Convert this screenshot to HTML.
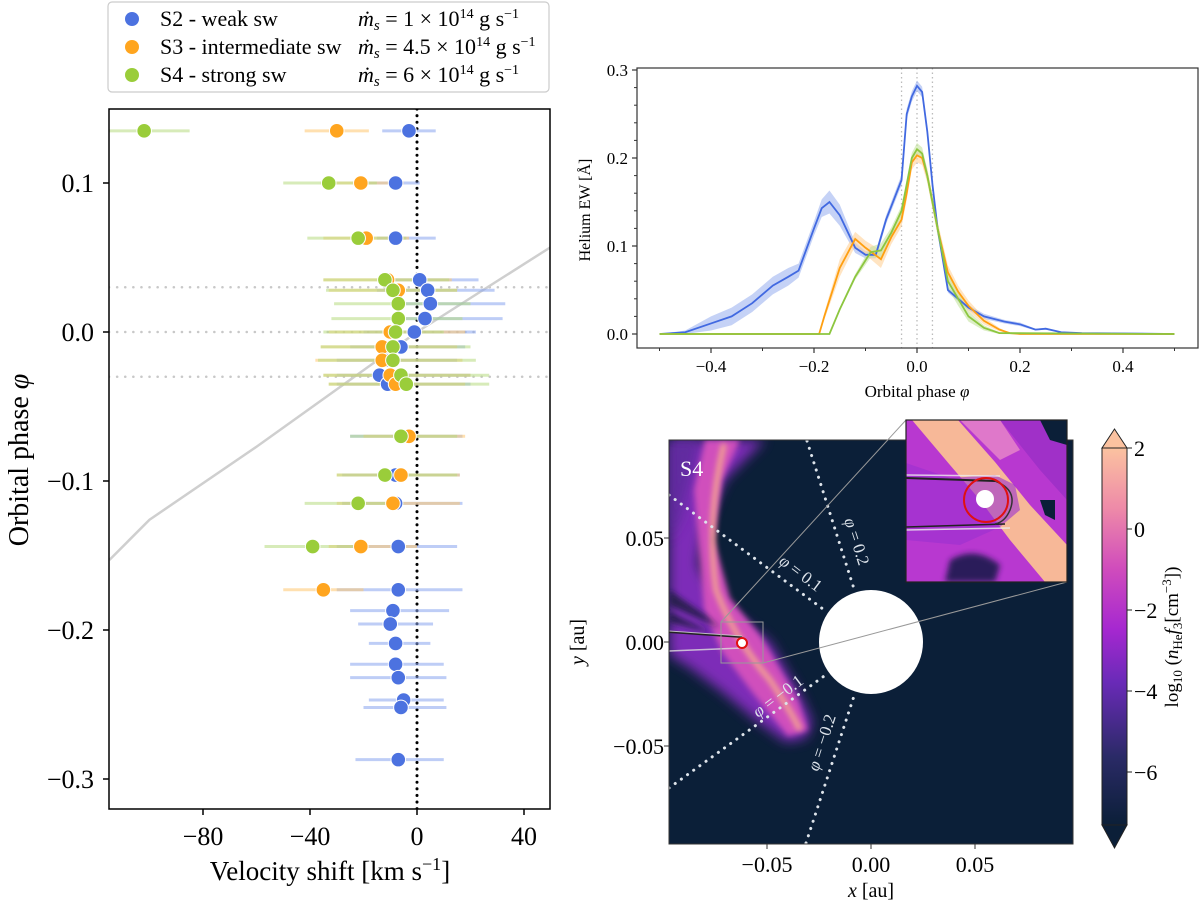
<!DOCTYPE html>
<html><head><meta charset="utf-8"><title>Helium velocity shift and EW</title>
<style>
html,body{margin:0;padding:0;background:#fff;}
svg{display:block;font-family:"Liberation Serif","DejaVu Serif",serif;}
</style></head>
<body>
<svg id="fig" width="1200" height="902" viewBox="0 0 1200 902" xmlns="http://www.w3.org/2000/svg">
<defs>
  <filter id="blur3" x="-20%" y="-20%" width="140%" height="140%"><feGaussianBlur stdDeviation="3"/></filter>
  <filter id="blur6" x="-20%" y="-20%" width="140%" height="140%"><feGaussianBlur stdDeviation="6"/></filter>
  <linearGradient id="cmap" x1="0" y1="1" x2="0" y2="0">
    <stop offset="0" stop-color="#0b1f38"/>
    <stop offset="0.18" stop-color="#2a2a66"/>
    <stop offset="0.38" stop-color="#6a2ab8"/>
    <stop offset="0.52" stop-color="#a628d0"/>
    <stop offset="0.68" stop-color="#d04cbc"/>
    <stop offset="0.84" stop-color="#ee8aa8"/>
    <stop offset="1" stop-color="#fbc2a0"/>
  </linearGradient>
  <clipPath id="mapclip"><rect x="669" y="440" width="404" height="404"/></clipPath>
  <clipPath id="insetclip"><rect x="906" y="420" width="161" height="162"/></clipPath>
  <clipPath id="leftclip"><rect x="109" y="109" width="441" height="700"/></clipPath>
  <clipPath id="trclip"><rect x="637" y="68" width="561" height="280"/></clipPath>
</defs>

<!-- LEFT PANEL -->
<g id="left">
  <g id="leftGrid" clip-path="url(#leftclip)"></g>
  <g id="leftMarks" clip-path="url(#leftclip)"></g>
  <rect x="109" y="109" width="441" height="700" fill="none" stroke="#000" stroke-width="1.5"/>
  <g id="leftTicks"></g>
  <text x="28" y="460" font-size="28" text-anchor="middle" transform="rotate(-90 28 460)">Orbital phase <tspan font-style="italic">φ</tspan></text>
  <text x="330" y="880" font-size="27" text-anchor="middle">Velocity shift [km s<tspan baseline-shift="super" font-size="18">−1</tspan>]</text>
</g>

<!-- LEGEND -->
<g id="legend">
  <rect x="108" y="2" width="441" height="90" rx="4" fill="#fff" stroke="#ccc" stroke-width="1.2"/>
  <g>
    <circle cx="132" cy="19" r="7" fill="#4c72e0"/>
    <text x="160" y="26" font-size="22">S2 - weak sw</text>
    <text x="358" y="26" font-size="22"><tspan font-style="italic">ṁ</tspan><tspan font-style="italic" font-size="15" dy="4">s</tspan><tspan dy="-4"> = 1 × 10</tspan><tspan font-size="14" dy="-8">14</tspan><tspan dy="8"> g s</tspan><tspan font-size="14" dy="-8">−1</tspan></text>
  </g>
  <g>
    <circle cx="132" cy="47" r="7" fill="#ffa51f"/>
    <text x="160" y="54" font-size="22">S3 - intermediate sw</text>
    <text x="358" y="54" font-size="22"><tspan font-style="italic">ṁ</tspan><tspan font-style="italic" font-size="15" dy="4">s</tspan><tspan dy="-4"> = 4.5 × 10</tspan><tspan font-size="14" dy="-8">14</tspan><tspan dy="8"> g s</tspan><tspan font-size="14" dy="-8">−1</tspan></text>
  </g>
  <g>
    <circle cx="132" cy="75" r="7" fill="#9acd3a"/>
    <text x="160" y="82" font-size="22">S4 - strong sw</text>
    <text x="358" y="82" font-size="22"><tspan font-style="italic">ṁ</tspan><tspan font-style="italic" font-size="15" dy="4">s</tspan><tspan dy="-4"> = 6 × 10</tspan><tspan font-size="14" dy="-8">14</tspan><tspan dy="8"> g s</tspan><tspan font-size="14" dy="-8">−1</tspan></text>
  </g>
</g>

<!-- TOP RIGHT PANEL -->
<g id="tr">
  <g id="trMarks" clip-path="url(#trclip)"></g>
  <rect x="637" y="68" width="561" height="280" fill="none" stroke="#333" stroke-width="1.2"/>
  <g id="trTicks"></g>
  <text x="590" y="210" font-size="16" text-anchor="middle" transform="rotate(-90 590 210)">Helium EW [Å]</text>
  <text x="917" y="397" font-size="17" text-anchor="middle">Orbital phase <tspan font-style="italic">φ</tspan></text>
</g>

<!-- MAP PANEL -->
<g id="map">
  <g clip-path="url(#mapclip)">
    <rect x="669" y="440" width="404" height="404" fill="#0b1f38"/>
    <g>
      <path d="M669,440 L765,440 L725,480 L705,525 L698,565 L722,605 L770,642 L800,695 L812,722 L806,738 L786,742 L758,722 L722,692 L690,668 L669,655 Z" fill="#8a2ec6" opacity="0.9" filter="url(#blur6)"/>
      <path d="M669,440 L700,440 L690,480 L680,520 L669,540 Z" fill="#5a2a9a" opacity="0.8" filter="url(#blur6)"/>
      <path d="M705,440 L740,440 L722,480 L714,540 L730,598 L762,638 L798,700 L808,730 L788,736 L752,692 L722,652 L704,610 L698,540 L694,490 Z" fill="#d050bc" filter="url(#blur3)"/>
      <path d="M724,444 Q706,520 716,590 Q735,640 770,680 Q790,710 800,730" fill="none" stroke="#f5a88e" stroke-width="5" filter="url(#blur3)"/>
      <path d="M669,590 L705,615 L720,628 L669,605 Z M669,612 L712,633 L669,622 Z" fill="#1a1a40" opacity="0.85" filter="url(#blur3)"/>
    </g>
    <circle cx="871" cy="642" r="52" fill="#fff"/>
    <g fill="none" stroke="#dde3ea" stroke-width="3" stroke-dasharray="0.1 7.5" stroke-linecap="round">
      <line x1="807" y1="441" x2="855" y2="592"/>
      <line x1="669" y1="495" x2="827" y2="612"/>
      <line x1="669" y1="788" x2="827" y2="674"/>
      <line x1="806" y1="843" x2="855" y2="693"/>
    </g>
    <g fill="#dde3ea" font-size="17">
      <text transform="translate(844,520) rotate(72)"><tspan font-style="italic">φ</tspan> = 0.2</text>
      <text transform="translate(778,563) rotate(37)"><tspan font-style="italic">φ</tspan> = 0.1</text>
      <text transform="translate(758,718) rotate(-37)"><tspan font-style="italic">φ</tspan> = −0.1</text>
      <text transform="translate(818,772) rotate(-72)"><tspan font-style="italic">φ</tspan> = −0.2</text>
    </g>
    <g>
      <line x1="669" y1="632" x2="742" y2="637" stroke="#222" stroke-width="2"/>
      <line x1="669" y1="631" x2="742" y2="636" stroke="#ddd" stroke-width="1" opacity="0.8"/>
      <line x1="669" y1="651" x2="742" y2="648" stroke="#ddd" stroke-width="1.5" opacity="0.8"/>
      <circle cx="742" cy="643" r="5" fill="#fff" stroke="#e01010" stroke-width="2"/>
    </g>
    <rect x="721" y="622" width="42" height="41" fill="none" stroke="#999" stroke-width="1"/>
    <text x="680" y="476" font-size="22" fill="#fff">S4</text>
  </g>
  <rect x="669" y="440" width="404" height="404" fill="none" stroke="#333" stroke-width="1"/>
  <line x1="721" y1="622" x2="906" y2="420" stroke="#999" stroke-width="1"/>
  <line x1="763" y1="663" x2="1067" y2="582" stroke="#999" stroke-width="1"/>
  <g clip-path="url(#insetclip)">
    <rect x="906" y="420" width="161" height="162" fill="#b838d0"/>
    <path d="M1000,420 L1067,420 L1067,500 L1040,470 Z" fill="#a030c8" />
    <path d="M1040,420 L1067,420 L1067,445 L1050,440 Z" fill="#0b1f38"/>
    <path d="M1040,500 L1055,500 L1055,520 L1045,515 Z" fill="#0b1f38"/>
    <path d="M950,560 Q975,545 1000,565 L995,582 L945,582 Z" fill="#2a1f5a" filter="url(#blur3)"/>
    <path d="M912,420 L958,420 L995,462 L1030,505 L1067,545 L1067,582 L1045,582 L1010,540 L980,500 L950,465 Z" fill="#f7b898"/>
    <path d="M960,420 L1000,420 L1020,450 L1000,460 Z" fill="#e888c8" opacity="0.8"/>
    <path d="M906,463 L906,540 L960,545 L1000,527 L1020,510 L1015,485 L995,475 L950,478 Z" fill="#9a30d0" opacity="0.6"/>
    <line x1="906" y1="478" x2="995" y2="481" stroke="#222" stroke-width="2"/>
    <line x1="906" y1="475" x2="1000" y2="476" stroke="#eee" stroke-width="1.5" opacity="0.8"/>
    <line x1="906" y1="527" x2="1005" y2="524" stroke="#222" stroke-width="1.5"/>
    <line x1="906" y1="530" x2="1010" y2="528" stroke="#eee" stroke-width="1.5" opacity="0.8"/>
    <path d="M995,481 Q1018,490 1010,510 Q1005,522 995,524" fill="none" stroke="#333" stroke-width="1.5"/>
    <circle cx="986" cy="500" r="22" fill="none" stroke="#e01010" stroke-width="2"/>
    <circle cx="985" cy="499" r="9" fill="#fff"/>
  </g>
  <rect x="906" y="420" width="161" height="162" fill="none" stroke="#222" stroke-width="1.2"/>
  <g id="mapTicks"></g>
  <text x="871" y="897" font-size="20" text-anchor="middle"><tspan font-style="italic">x</tspan> [au]</text>
  <text x="584" y="642" font-size="20" text-anchor="middle" transform="rotate(-90 584 642)"><tspan font-style="italic">y</tspan> [au]</text>
  <!-- colorbar -->
  <g>
    <path d="M1102,448 L1114.5,429 L1127,448 Z" fill="#fbc2a0" stroke="#222" stroke-width="1"/>
    <path d="M1102,825 L1114.5,848 L1127,825 Z" fill="#0b1f38" stroke="#222" stroke-width="1"/>
    <rect x="1102" y="448" width="25" height="377" fill="url(#cmap)" stroke="#222" stroke-width="1"/>
    <g id="cbTicks"></g>
    <text x="1178" y="637" font-size="19" text-anchor="middle" transform="rotate(-90 1178 637)">log<tspan font-size="13" dy="4">10</tspan><tspan dy="-4"> (</tspan><tspan font-style="italic">n</tspan><tspan font-size="13" dy="4">He</tspan><tspan dy="-4" font-style="italic">f</tspan><tspan font-size="13" dy="4">3</tspan><tspan dy="-4">[cm</tspan><tspan font-size="13" dy="-7">−3</tspan><tspan dy="7">])</tspan></text>
  </g>
</g>

<script>
var NS = "http://www.w3.org/2000/svg";
function mk(tag, attrs, parent){ var e=document.createElementNS(NS,tag); for(var k in attrs) e.setAttribute(k,attrs[k]); if(parent) parent.appendChild(e); return e; }

// ---------- LEFT PANEL DATA ----------
var s2Phase = [0.135,0.1,0.063,0.035,0.028,0.019,0.009,0.0,-0.01,-0.019,-0.029,-0.035,-0.07,-0.096,-0.115,-0.144,-0.173,-0.187,-0.196,-0.209,-0.223,-0.232,-0.247,-0.252,-0.287];
var s2Vel   = [-3,-8,-8,1,4,5,3,-1,-6,-12,-14,-11,-6,-8,-8,-7,-7,-9,-10,-8,-8,-7,-5,-6,-7];
var s2Lo    = [-13,-20,-15,-12,-15,-10,-10,-20,-25,-30,-30,-30,-25,-28,-28,-30,-30,-25,-22,-18,-25,-25,-18,-20,-23];
var s2Hi    = [7,1,7,23,29,33,32,22,18,15,20,20,17,16,17,15,17,12,6,5,10,11,10,11,10];

var s3Phase = [0.135,0.1,0.063,0.035,0.028,0.0,-0.01,-0.019,-0.029,-0.035,-0.07,-0.096,-0.115,-0.144,-0.173];
var s3Vel   = [-30,-21,-19,-11,-7,-10,-13,-13,-10,-8,-3,-6,-9,-21,-35];
var s3Lo    = [-42,-36,-35,-35,-33,-33,-36,-38,-35,-33,-20,-30,-30,-33,-50];
var s3Hi    = [-18,-5,-3,13,15,18,15,17,20,18,18,16,16,0,-20];

var s4Phase = [0.135,0.1,0.063,0.035,0.028,0.019,0.009,0.0,-0.01,-0.019,-0.029,-0.035,-0.07,-0.096,-0.115,-0.144];
var s4Vel   = [-102,-33,-22,-12,-9,-7,-7,-8,-9,-9,-6,-4,-6,-12,-22,-39];
var s4Lo    = [-115,-50,-41,-35,-34,-31,-32,-35,-36,-37,-35,-33,-25,-30,-42,-57];
var s4Hi    = [-85,-15,-4,12,15,20,17,10,20,22,27,27,15,15,-5,-20];

var modelVel   = [-115,-100,-60,0,50];
var modelPhase = [-0.153,-0.126,-0.077,0.0,0.057];

var leftXTicks = [-80,-40,0,40];
var leftYTicks = [0.1,0.0,-0.1,-0.2,-0.3];
var leftYTickLabels = ["0.1","0.0","\u22120.1","\u22120.2","\u22120.3"];
var leftXTickLabels = ["\u221280","\u221240","0","40"];
var refPhases = [0.03,0.0,-0.03];

// ---------- TOP RIGHT DATA ----------
var ewPhase2 = [-0.5,-0.45,-0.4,-0.36,-0.32,-0.28,-0.25,-0.23,-0.2,-0.185,-0.17,-0.15,-0.12,-0.1,-0.08,-0.06,-0.03,-0.02,-0.01,0.0,0.01,0.02,0.03,0.04,0.06,0.08,0.1,0.13,0.17,0.2,0.23,0.25,0.28,0.32,0.5];
var ewS2     = [0,0.002,0.012,0.02,0.035,0.055,0.065,0.072,0.12,0.143,0.15,0.135,0.098,0.09,0.09,0.13,0.175,0.25,0.27,0.282,0.275,0.23,0.17,0.12,0.05,0.04,0.03,0.02,0.014,0.011,0.005,0.006,0.002,0.001,0];
var ewS2Err  = [0,0.002,0.008,0.01,0.01,0.01,0.01,0.008,0.008,0.01,0.013,0.012,0.006,0.004,0.004,0.005,0.006,0.006,0.006,0.006,0.006,0.005,0.004,0.003,0.003,0.003,0.003,0.003,0.002,0.002,0.001,0.001,0,0,0];

var ewPhase3 = [-0.5,-0.19,-0.18,-0.15,-0.12,-0.1,-0.07,-0.05,-0.03,-0.02,-0.01,0.0,0.01,0.02,0.03,0.04,0.06,0.08,0.1,0.13,0.16,0.18,0.2,0.5];
var ewS3     = [0,0,0.02,0.075,0.108,0.098,0.085,0.11,0.13,0.16,0.195,0.203,0.2,0.18,0.15,0.12,0.07,0.048,0.032,0.015,0.005,0.001,0,0];
var ewS3Err  = [0,0,0.004,0.01,0.008,0.008,0.01,0.008,0.008,0.008,0.008,0.008,0.008,0.008,0.008,0.008,0.008,0.007,0.006,0.004,0.002,0,0,0];

var ewPhase4 = [-0.5,-0.17,-0.15,-0.12,-0.09,-0.07,-0.05,-0.03,-0.02,-0.01,0.0,0.01,0.02,0.03,0.04,0.06,0.08,0.1,0.13,0.16,0.5];
var ewS4     = [0,0,0.028,0.065,0.093,0.095,0.115,0.14,0.17,0.2,0.21,0.205,0.18,0.15,0.12,0.06,0.04,0.02,0.007,0.001,0];
var ewS4Err  = [0,0,0.002,0.003,0.006,0.008,0.006,0.006,0.006,0.006,0.007,0.007,0.007,0.007,0.007,0.008,0.008,0.006,0.003,0.001,0];

var ewXTicks = [-0.4,-0.2,0.0,0.2,0.4];
var ewXTickLabels = ["\u22120.4","\u22120.2","0.0","0.2","0.4"];
var ewYTicks = [0.0,0.1,0.2,0.3];
var ewYTickLabels = ["0.0","0.1","0.2","0.3"];
var ewRefPhases = [-0.03,0.0,0.03];

// ---------- MAP TICKS ----------
var mapXTicks = [-0.05,0.0,0.05];
var mapXTickLabels = ["\u22120.05","0.00","0.05"];
var mapYTicks = [0.05,0.0,-0.05];
var mapYTickLabels = ["0.05","0.00","\u22120.05"];
var cbTicks = [2,0,-2,-4,-6];
var cbTickLabels = ["2","0","\u22122","\u22124","\u22126"];

// ---------- SCALES ----------
function lx(v){ return 417 + v*2.675; }
function ly(p){ return 332 - p*1490; }
function ex(p){ return 917 + p*515; }
function ey(w){ return 334 - w*880; }
function mx(a){ return 871 + a*2080; }
function my(a){ return 642 - a*2080; }
function cy(v){ return 448 + (2 - v)*40.5; }

// ---------- LEFT DRAW ----------
var lg = document.getElementById('leftGrid');
refPhases.forEach(function(p){
  var l = mk('line',{x1:109,x2:550,y1:ly(p),y2:ly(p),stroke:'#c8c8c8','stroke-width':2.5,'stroke-dasharray':'0.1 8','stroke-linecap':'round'},lg);
  
  
});
var mp = modelVel.map(function(v,i){ return lx(v)+','+ly(modelPhase[i]); }).join(' ');
var ml = mk('polyline',{points:mp,fill:'none',stroke:'#cfcfcf','stroke-width':2.5,'stroke-linejoin':'round'},lg);


var zl = mk('line',{x1:lx(0),x2:lx(0),y1:109,y2:809,stroke:'#000','stroke-width':3,'stroke-dasharray':'0.1 6.5','stroke-linecap':'round'},lg);



var lm = document.getElementById('leftMarks');
var series = [
  {ph:s2Phase,v:s2Vel,lo:s2Lo,hi:s2Hi,c:'#4c72e0',ec:'#8aa6f0',n:'s2'},
  {ph:s3Phase,v:s3Vel,lo:s3Lo,hi:s3Hi,c:'#ffa51f',ec:'#ffc870',n:'s3'},
  {ph:s4Phase,v:s4Vel,lo:s4Lo,hi:s4Hi,c:'#9acd3a',ec:'#b8dc80',n:'s4'}
];
series.forEach(function(s){
  s.ph.forEach(function(p,i){
    var e = mk('line',{x1:lx(s.lo[i]),x2:lx(s.hi[i]),y1:ly(p),y2:ly(p),stroke:s.ec,'stroke-width':3,opacity:0.55},lm);
    
    
  });
});
series.forEach(function(s){
  s.ph.forEach(function(p,i){
    var c = mk('circle',{cx:lx(s.v[i]),cy:ly(p),r:7.3,fill:s.c,stroke:'#fff','stroke-width':1},lm);
    
    
  });
});
var lt = document.getElementById('leftTicks');
leftXTicks.forEach(function(v,i){
  mk('line',{x1:lx(v),x2:lx(v),y1:809,y2:815,stroke:'#000','stroke-width':1.5},lt);
  var t = mk('text',{x:lx(v),y:845,'font-size':26,'text-anchor':'middle'},lt);
  t.textContent = leftXTickLabels[i];
  
  
});
leftYTicks.forEach(function(p,i){
  mk('line',{x1:103,x2:109,y1:ly(p),y2:ly(p),stroke:'#000','stroke-width':1.5},lt);
  var t = mk('text',{x:94,y:ly(p)+9,'font-size':26,'text-anchor':'end'},lt);
  t.textContent = leftYTickLabels[i];
  
  
});

// ---------- TOP RIGHT DRAW ----------
var tm = document.getElementById('trMarks');
ewRefPhases.forEach(function(p){
  var l = mk('line',{x1:ex(p),x2:ex(p),y1:68,y2:348,stroke:'#bbb','stroke-width':1.3,'stroke-dasharray':'1.5 3'},tm);
  
  
});
var ews = [
  {x:ewPhase2,y:ewS2,e:ewS2Err,c:'#4169e1',f:'#9fb4f0',n:'s2'},
  {x:ewPhase3,y:ewS3,e:ewS3Err,c:'#ff9f10',f:'#ffd29a',n:'s3'},
  {x:ewPhase4,y:ewS4,e:ewS4Err,c:'#8cc63f',f:'#c4e3a0',n:'s4'}
];
ews.forEach(function(s){
  var up = s.x.map(function(p,i){ return ex(p)+','+ey(s.y[i]+s.e[i]); });
  var dn = s.x.map(function(p,i){ return ex(p)+','+ey(s.y[i]-s.e[i]); }).reverse();
  var band = mk('polygon',{points:up.concat(dn).join(' '),fill:s.f,opacity:0.6},tm);
  
  
});
ews.forEach(function(s){
  var pts = s.x.map(function(p,i){ return ex(p)+','+ey(s.y[i]); }).join(' ');
  var l = mk('polyline',{points:pts,fill:'none',stroke:s.c,'stroke-width':1.8},tm);
  
  
});
var tt = document.getElementById('trTicks');
for (var k=-5;k<=5;k++){ var p=k/10; mk('line',{x1:ex(p),x2:ex(p),y1:348,y2:351,stroke:'#333','stroke-width':1},tt); }
ewXTicks.forEach(function(p,i){
  mk('line',{x1:ex(p),x2:ex(p),y1:348,y2:353,stroke:'#333','stroke-width':1.2},tt);
  var t = mk('text',{x:ex(p),y:372,'font-size':17,'text-anchor':'middle'},tt);
  t.textContent = ewXTickLabels[i];
  
  
});
for (var k2=0;k2<=15;k2++){ var w=k2*0.02; mk('line',{x1:634,x2:637,y1:ey(w),y2:ey(w),stroke:'#333','stroke-width':1},tt); }
ewYTicks.forEach(function(w,i){
  mk('line',{x1:632,x2:637,y1:ey(w),y2:ey(w),stroke:'#333','stroke-width':1.2},tt);
  var t = mk('text',{x:628,y:ey(w)+6,'font-size':17,'text-anchor':'end'},tt);
  t.textContent = ewYTickLabels[i];
  
  
});

// ---------- MAP TICKS ----------
var mt = document.getElementById('mapTicks');
mapXTicks.forEach(function(a,i){
  mk('line',{x1:mx(a),x2:mx(a),y1:844,y2:849,stroke:'#333','stroke-width':1},mt);
  var t = mk('text',{x:mx(a),y:872,'font-size':22,'text-anchor':'middle'},mt);
  t.textContent = mapXTickLabels[i];
  
  
});
mapYTicks.forEach(function(a,i){
  mk('line',{x1:664,x2:669,y1:my(a),y2:my(a),stroke:'#333','stroke-width':1},mt);
  var t = mk('text',{x:664,y:my(a)+8,'font-size':22,'text-anchor':'end'},mt);
  t.textContent = mapYTickLabels[i];
  
  
});
var cbt = document.getElementById('cbTicks');
cbTicks.forEach(function(v,i){
  mk('line',{x1:1127,x2:1132,y1:cy(v),y2:cy(v),stroke:'#222','stroke-width':1},cbt);
  var t = mk('text',{x:1134,y:cy(v)+8,'font-size':22},cbt);
  t.textContent = cbTickLabels[i];
  
  
});
</script>
</svg>
</body></html>
